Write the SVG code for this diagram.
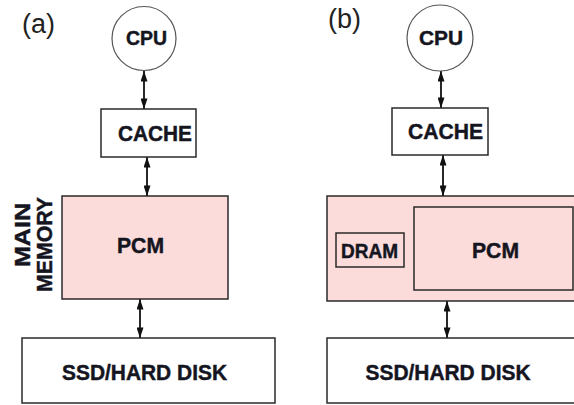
<svg xmlns="http://www.w3.org/2000/svg" width="574" height="405" viewBox="0 0 574 405">
<defs>
<style>
.box{fill:#ffffff;stroke:#2a2a2a;stroke-width:1.5}
.mem{fill:#fbdcdb;stroke:#2a2a2a;stroke-width:1.5}
.cpu{fill:#ffffff;stroke:#555555;stroke-width:1.2}
.t{font-family:"Liberation Sans",Arial,sans-serif;font-weight:bold;fill:#15151f;stroke:#15151f;stroke-width:0.45;text-anchor:middle}
.lab{font-family:"Liberation Sans",Arial,sans-serif;fill:#222222;font-size:27px}
.c{stroke:#111111;stroke-width:1.8;fill:none;marker-start:url(#ah);marker-end:url(#ah)}
</style>
<marker id="ah" viewBox="0 0 12 8" refX="12" refY="4" markerWidth="12" markerHeight="7" orient="auto-start-reverse" markerUnits="userSpaceOnUse">
<path d="M0,0 L12,4 L0,8 Z" fill="#111111"/>
</marker>
</defs>
<rect width="574" height="405" fill="#ffffff"/>
<text class="lab" x="22" y="33">(a)</text>
<text class="lab" x="328" y="28">(b)</text>
<g id="connectors">
<line class="c" x1="144" y1="71" x2="144" y2="109"/>
<line class="c" x1="147" y1="157" x2="147" y2="196"/>
<line class="c" x1="140" y1="299" x2="140" y2="338"/>
<line class="c" x1="441" y1="71" x2="441" y2="108"/>
<line class="c" x1="443" y1="155" x2="443" y2="196"/>
<line class="c" x1="447" y1="301" x2="447" y2="338"/>
</g>
<g id="cpu-a">
<circle class="cpu" cx="144" cy="38.5" r="32"/>
<text class="t" x="146.5" y="45" font-size="21" textLength="41" lengthAdjust="spacingAndGlyphs">CPU</text>
</g>
<g id="cache-a">
<rect class="box" x="101" y="109" width="95" height="48"/>
<text class="t" x="155" y="141" font-size="22" textLength="74" lengthAdjust="spacingAndGlyphs">CACHE</text>
</g>
<g id="pcm-a">
<rect class="mem" x="62" y="196" width="166" height="103"/>
<text class="t" x="140.5" y="253" font-size="22" textLength="47" lengthAdjust="spacingAndGlyphs">PCM</text>
</g>
<g id="main-memory-label">
<text class="t" transform="translate(30,235) rotate(-90)" font-size="22" textLength="64" lengthAdjust="spacingAndGlyphs">MAIN</text>
<text class="t" transform="translate(52,244.5) rotate(-90)" font-size="22" textLength="95" lengthAdjust="spacingAndGlyphs">MEMORY</text>
</g>
<g id="ssd-a">
<rect class="box" x="22" y="338" width="253" height="65"/>
<text class="t" x="144.5" y="380" font-size="22" textLength="165" lengthAdjust="spacingAndGlyphs">SSD/HARD DISK</text>
</g>
<g id="cpu-b">
<circle class="cpu" cx="440" cy="38" r="33"/>
<text class="t" x="441" y="45" font-size="21" textLength="44" lengthAdjust="spacingAndGlyphs">CPU</text>
</g>
<g id="cache-b">
<rect class="box" x="392" y="108" width="96" height="47"/>
<text class="t" x="445.5" y="139" font-size="22" textLength="75" lengthAdjust="spacingAndGlyphs">CACHE</text>
</g>
<g id="memory-b">
<rect class="mem" x="327" y="196" width="260" height="105"/>
</g>
<g id="pcm-b">
<rect class="mem" x="414" y="207" width="159" height="83"/>
<text class="t" x="495.5" y="258" font-size="22" textLength="47" lengthAdjust="spacingAndGlyphs">PCM</text>
</g>
<g id="dram-b">
<rect class="mem" x="336" y="233" width="68" height="34"/>
<text class="t" x="369.5" y="258" font-size="20" textLength="57" lengthAdjust="spacingAndGlyphs">DRAM</text>
</g>
<g id="ssd-b">
<rect class="box" x="327" y="338" width="260" height="65"/>
<text class="t" x="448" y="380" font-size="22" textLength="165" lengthAdjust="spacingAndGlyphs">SSD/HARD DISK</text>
</g>
</svg>
